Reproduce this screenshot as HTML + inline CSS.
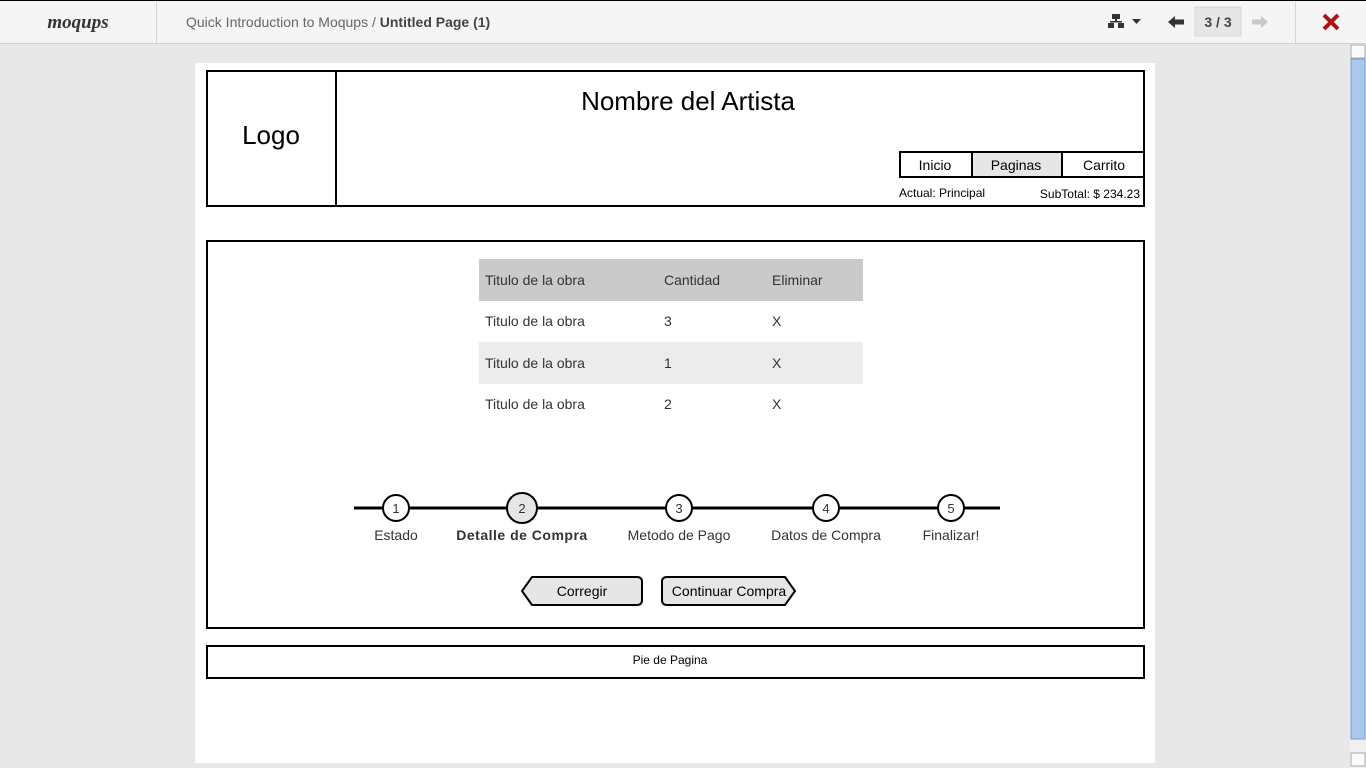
<!DOCTYPE html>
<html><head><meta charset="utf-8"><style>
html,body{margin:0;padding:0;width:1366px;height:768px;overflow:hidden;background:#e8e8e8;font-family:"Liberation Sans",sans-serif}
svg{position:absolute;left:0;top:0}
</style></head><body>
<svg width="1366" height="768" xmlns="http://www.w3.org/2000/svg" font-family="Liberation Sans, sans-serif">
<!-- top bar -->
<rect x="0" y="0" width="1366" height="43" fill="#f5f5f5"/>
<rect x="0" y="0" width="1366" height="1" fill="#000"/>
<rect x="0" y="43" width="1366" height="1" fill="#d0d0d0"/>
<rect x="156" y="1" width="1" height="42" fill="#d6d6d6"/>
<rect x="1295" y="1" width="1" height="42" fill="#d6d6d6"/>
<text x="78" y="28" font-size="19" font-weight="bold" font-style="italic" fill="#333" text-anchor="middle" font-family="Liberation Serif, serif">moqups</text>
<text x="186" y="27" font-size="14" fill="#666">Quick Introduction to Moqups / <tspan font-weight="bold" fill="#444">Untitled Page (1)</tspan></text>
<!-- sitemap icon -->
<g fill="#333"><rect x="1112" y="14" width="8" height="5"/><rect x="1115" y="19" width="2" height="3"/><rect x="1110" y="21" width="12" height="1.5"/><rect x="1108" y="23" width="6" height="5"/><rect x="1118" y="23" width="6" height="5"/></g>
<polygon points="1132,19 1141,19 1136.5,24" fill="#333"/>
<polygon points="1168,22 1175,16 1175,19.5 1184,19.5 1184,24.5 1175,24.5 1175,28" fill="#333"/>
<rect x="1195" y="7" width="46" height="29" fill="#e6e6e6" stroke="#d6d6d6"/>
<text x="1218" y="27" font-size="14" fill="#444" text-anchor="middle" font-weight="bold">3 / 3</text>
<polygon points="1268,22 1261,16 1261,19.5 1252,19.5 1252,24.5 1261,24.5 1261,28" fill="#c8c8c8"/>
<path d="M1324,15 L1338,29 M1338,15 L1324,29" stroke="#b01010" stroke-width="4"/>
<!-- scrollbar -->
<rect x="1350" y="44" width="16" height="724" fill="#f0f0f0"/>
<rect x="1351" y="45" width="14" height="13" fill="#fafafa" stroke="#aaa"/>
<rect x="1351" y="59" width="14" height="680" fill="#a9c8ee" stroke="#7a9ccc"/>
<rect x="1351" y="753" width="14" height="13" fill="#fafafa" stroke="#aaa"/>
<!-- page -->
<rect x="195" y="63" width="960" height="700" fill="#fff"/>
<g fill="none" stroke="#000" stroke-width="2">
<rect x="207" y="71" width="937" height="135"/>
<line x1="336" y1="71" x2="336" y2="206"/>
<rect x="207" y="241" width="937" height="387"/>
<rect x="207" y="646" width="937" height="32"/>
</g>
<text x="271" y="144" font-size="26" text-anchor="middle">Logo</text>
<text x="688" y="110" font-size="26" text-anchor="middle">Nombre del Artista</text>
<rect x="972" y="152" width="90" height="25" fill="#e6e6e6"/>
<g fill="none" stroke="#000" stroke-width="2"><rect x="900" y="152" width="244" height="25"/><line x1="972" y1="152" x2="972" y2="177"/><line x1="1062" y1="152" x2="1062" y2="177"/></g>
<g font-size="14" text-anchor="middle"><text x="935" y="170">Inicio</text><text x="1016" y="170">Paginas</text><text x="1104" y="170">Carrito</text></g>
<text x="899" y="197" font-size="12">Actual: Principal</text>
<text x="1140" y="198" font-size="12" text-anchor="end">SubTotal: $ 234.23</text>
<!-- table -->
<rect x="479" y="259" width="384" height="42" fill="#cacaca"/>
<rect x="479" y="342" width="384" height="42" fill="#ececec"/>
<g font-size="14" fill="#333">
<text x="485" y="285">Titulo de la obra</text><text x="664" y="285">Cantidad</text><text x="772" y="285">Eliminar</text>
<text x="485" y="326">Titulo de la obra</text><text x="664" y="326">3</text><text x="772" y="326">X</text>
<text x="485" y="368">Titulo de la obra</text><text x="664" y="368">1</text><text x="772" y="368">X</text>
<text x="485" y="409">Titulo de la obra</text><text x="664" y="409">2</text><text x="772" y="409">X</text>
</g>
<!-- steps -->
<line x1="354" y1="508" x2="1000" y2="508" stroke="#000" stroke-width="3"/>
<g stroke="#000" stroke-width="2" fill="#fff">
<circle cx="396" cy="508" r="13"/><circle cx="522" cy="508" r="15" fill="#e6e6e6"/><circle cx="679" cy="508" r="13"/><circle cx="826" cy="508" r="13"/><circle cx="951" cy="508" r="13"/>
</g>
<g font-size="13" text-anchor="middle" fill="#333">
<text x="396" y="513">1</text><text x="522" y="513">2</text><text x="679" y="513">3</text><text x="826" y="513">4</text><text x="951" y="513">5</text>
</g>
<g font-size="14" text-anchor="middle" fill="#333">
<text x="396" y="540">Estado</text>
<text x="522" y="540" font-weight="bold" letter-spacing="0.5">Detalle de Compra</text>
<text x="679" y="540">Metodo de Pago</text>
<text x="826" y="540">Datos de Compra</text>
<text x="951" y="540">Finalizar!</text>
</g>
<!-- buttons -->
<path d="M532,577 L637,577 Q642,577 642,582 L642,600 Q642,605 637,605 L532,605 L522,591 Z" fill="#e6e6e6" stroke="#000" stroke-width="2"/>
<path d="M667,577 L785,577 L795,591 L785,605 L667,605 Q662,605 662,600 L662,582 Q662,577 667,577 Z" fill="#e6e6e6" stroke="#000" stroke-width="2"/>
<g font-size="14" text-anchor="middle"><text x="582" y="596">Corregir</text><text x="729" y="596">Continuar Compra</text></g>
<text x="670" y="664" font-size="12" text-anchor="middle">Pie de Pagina</text>
</svg>
</body></html>
